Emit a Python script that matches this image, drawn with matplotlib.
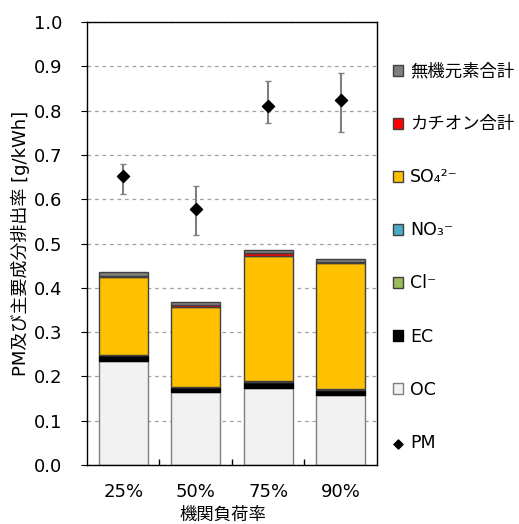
import numpy as np
import matplotlib
matplotlib.use('Agg')
import matplotlib.pyplot as plt

plt.rcParams['font.family'] = ['DejaVu Sans', 'Noto Sans CJK JP']

# Engine load categories
loads = ['25%', '50%', '75%', '90%']

# Stacked composition [g/kWh], bottom to top
oc = [0.235, 0.164, 0.173, 0.157]
ec = [0.0125, 0.011, 0.014, 0.013]
cl = [0.0005, 0.0005, 0.0005, 0.0005]
no3 = [0.001, 0.001, 0.001, 0.001]
so4 = [0.1745, 0.1805, 0.284, 0.2835]
cation = [0.0035, 0.004, 0.0055, 0.004]
inorganic = [0.008, 0.008, 0.0066, 0.006]

# Total PM with min/max range
pm = [0.653, 0.578, 0.811, 0.824]
pm_low = [0.612, 0.519, 0.771, 0.752]
pm_high = [0.679, 0.629, 0.866, 0.884]

layers = [
    ('OC', oc, '#F2F2F2', '#7F7F7F'),
    ('EC', ec, '#000000', '#000000'),
    ('Cl⁻', cl, '#9BBB59', '#404040'),
    ('NO₃⁻', no3, '#4BACC6', '#404040'),
    ('SO₄²⁻', so4, '#FFC000', '#404040'),
    ('カチオン合計', cation, '#FF0000', '#404040'),
    ('無機元素合計', inorganic, '#7F7F7F', '#404040'),
]

fig = plt.figure(figsize=(5.19, 5.24), dpi=100)
ax = fig.add_axes([0.1676, 0.1126, 0.5588, 0.8454])

x = np.arange(len(loads))
bottom = np.zeros(len(loads))
handles = {}
for name, vals, fc, ecol in layers:
    h = ax.bar(x, vals, width=0.67, bottom=bottom, color=fc, edgecolor=ecol,
               linewidth=1.0, zorder=2, label=name)
    handles[name] = h
    bottom += np.array(vals)

pm = np.array(pm)
yerr = [pm - np.array(pm_low), np.array(pm_high) - pm]
ax.errorbar(x, pm, yerr=yerr, fmt='none', ecolor='#808080', elinewidth=1.5,
            capsize=2.5, capthick=1.0, zorder=3)
pm_h = ax.scatter(x, pm, marker='D', s=38, color='black', zorder=4, label='PM')

ax.set_xlim(-0.5, 3.5)
ax.set_ylim(0, 1.0)
ax.set_yticks(np.arange(0, 1.01, 0.1))
ax.set_yticklabels([f'{v:.1f}' for v in np.arange(0, 1.01, 0.1)])
ax.set_xticks(x)
ax.set_xticklabels(loads)
ax.set_xticks([0.5, 1.5, 2.5], minor=True)
ax.tick_params(axis='x', which='major', length=0, pad=13, labelsize=13)
ax.tick_params(axis='x', which='minor', direction='in', length=4, width=1)
ax.tick_params(axis='y', direction='out', length=4.5, pad=13.5, labelsize=13)
ax.yaxis.grid(True, linestyle=(0, (3, 3)), color='#A0A0A0', linewidth=0.9, zorder=0)
ax.set_axisbelow(True)
for s in ax.spines.values():
    s.set_linewidth(1.0)

ax.set_xlabel('機関負荷率', fontsize=12.5, va='center')
ax.xaxis.set_label_coords(0.47, -0.112)
ax.set_ylabel('PM及び主要成分排出率 [g/kWh]', fontsize=13, va='center')
ax.yaxis.set_label_coords(-0.228, 0.5)

order = ['無機元素合計', 'カチオン合計', 'SO₄²⁻', 'NO₃⁻', 'Cl⁻', 'EC', 'OC']
leg_h = [handles[n] for n in order] + [pm_h]
leg_l = order + ['PM']
ax.legend(leg_h, leg_l, loc='upper left', bbox_to_anchor=(1.03, 0.925),
          frameon=False, fontsize=12.5, labelspacing=2.02, handlelength=0.6,
          handleheight=0.6, handletextpad=0.4, borderaxespad=0, markerscale=0.75)

fig.savefig('out.png', dpi=100)
